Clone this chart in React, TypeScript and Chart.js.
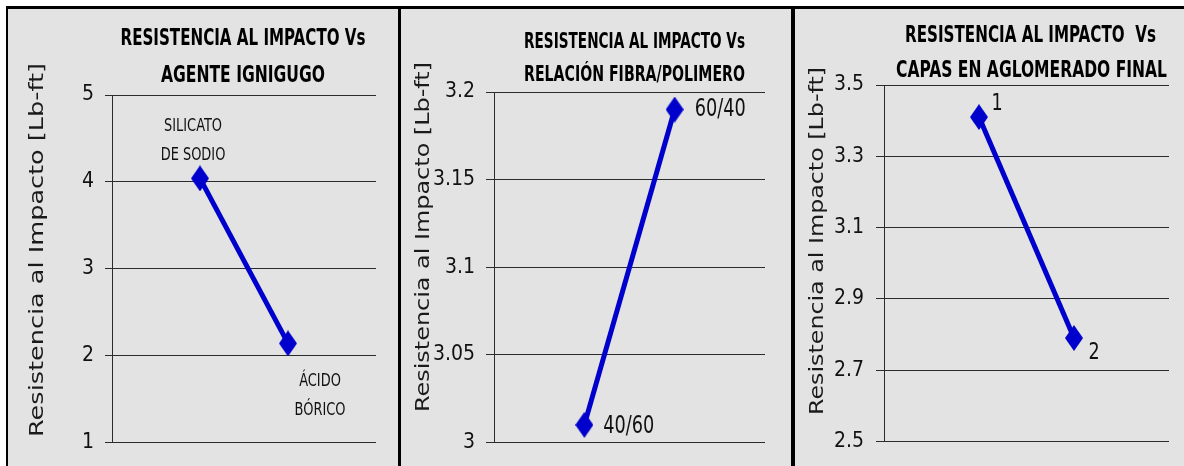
import React, { useEffect, useRef } from 'react';
import { Chart, registerables } from 'chart.js';

Chart.register(...registerables);

// ---------- data ----------
const categories1 = ['SILICATO DE SODIO', 'ÁCIDO BÓRICO'];
const values1 = [4.04, 2.14];
const pointLabels1 = [['SILICATO', 'DE SODIO'], ['ÁCIDO', 'BÓRICO']];
const yTicks1 = [1, 2, 3, 4, 5];
const title1 = ['RESISTENCIA AL IMPACTO Vs', 'AGENTE IGNIGUGO'];

const categories2 = ['40/60', '60/40'];
const values2 = [3.01, 3.19];
const pointLabels2 = [['40/60'], ['60/40']];
const yTicks2 = [3, 3.05, 3.1, 3.15, 3.2];
const title2 = ['RESISTENCIA AL IMPACTO Vs', 'RELACIÓN FIBRA/POLIMERO'];

const categories3 = ['1', '2'];
const values3 = [3.41, 2.79];
const pointLabels3 = [['1'], ['2']];
const yTicks3 = [2.5, 2.7, 2.9, 3.1, 3.3, 3.5];
const title3 = ['RESISTENCIA AL IMPACTO  Vs', 'CAPAS EN AGLOMERADO FINAL'];

const yAxisTitle = 'Resistencia al Impacto [Lb-ft]';

// ---------- styles ----------
const NARROW = "'Liberation Sans Narrow', 'DejaVu Sans Condensed', 'Arial Narrow', sans-serif";
const WIDE = "'DejaVu Sans', Verdana, sans-serif";
const BLUE = '#0000CC';
const GRID = '#2b2b2b';
const PANEL_BG = '#e3e3e3';
const PANEL_H = 457;

type PanelCfg = {
  left: number;
  width: number;
  categories: string[];
  values: number[];
  pointLabels: string[][];
  yTicks: number[];
  title: string[];
  titleSize: number;
  titleCx: number[];
  titleBaseline: number[];
  titleWidth: number[];
  padTop: number;
  yWidth: number;
  padRight: number;
  padBottom: number;
  tickLength: number;
  tickPadding: number;
  axisTitleX: number;
  axisTitleY: number;
  axisTitleLen: number;
  labelFontSize: number;
  labelScaleX: number;
  labelLineGap: number;
  labelOffsets: number[][];
};

const panels: PanelCfg[] = [
  {
    left: 8, width: 390,
    categories: categories1, values: values1, pointLabels: pointLabels1, yTicks: yTicks1, title: title1,
    titleSize: 23, titleCx: [235, 235], titleBaseline: [36, 72.5], titleWidth: [245, 164],
    padTop: 86, yWidth: 104, padRight: 22, padBottom: 16,
    tickLength: 7, tickPadding: 11,
    axisTitleX: 30, axisTitleY: 241, axisTitleLen: 374,
    labelFontSize: 18, labelScaleX: 0.8, labelLineGap: 28.5,
    labelOffsets: [[-7, -52], [32, 38]],
  },
  {
    left: 401, width: 391,
    categories: categories2, values: values2, pointLabels: pointLabels2, yTicks: yTicks2, title: title2,
    titleSize: 22, titleCx: [233.5, 233.5], titleBaseline: [39, 72], titleWidth: [221, 221],
    padTop: 83, yWidth: 93, padRight: 27, padBottom: 16,
    tickLength: 8, tickPadding: 11,
    axisTitleX: 23, axisTitleY: 228, axisTitleLen: 350,
    labelFontSize: 24, labelScaleX: 0.82, labelLineGap: 28,
    labelOffsets: [[44.5, 2], [45.5, 0]],
  },
  {
    left: 795, width: 389,
    categories: categories3, values: values3, pointLabels: pointLabels3, yTicks: yTicks3, title: title3,
    titleSize: 23, titleCx: [235.5, 236.5], titleBaseline: [32.7, 67.7], titleWidth: [251, 271],
    padTop: 76, yWidth: 89, padRight: 15, padBottom: 15,
    tickLength: 8, tickPadding: 12,
    axisTitleX: 23, axisTitleY: 232, axisTitleLen: 348,
    labelFontSize: 23, labelScaleX: 0.85, labelLineGap: 28,
    labelOffsets: [[18, -13], [20, 15]],
  },
];

function makeDiamond(w: number, h: number, color: string) {
  const c = document.createElement('canvas');
  c.width = w;
  c.height = h;
  const g = c.getContext('2d')!;
  g.fillStyle = color;
  g.beginPath();
  g.moveTo(w / 2, 0);
  g.lineTo(w, h / 2);
  g.lineTo(w / 2, h);
  g.lineTo(0, h / 2);
  g.closePath();
  g.fill();
  return c;
}

function Panel({ cfg }: { cfg: PanelCfg }) {
  const ref = useRef<HTMLCanvasElement | null>(null);

  useEffect(() => {
    if (!ref.current) return;
    const diamond = makeDiamond(18, 26, BLUE);

    // chart title (condensed bold, two lines)
    const titlePlugin = {
      id: 'condensedTitle',
      afterDraw(chart: any) {
        const { ctx } = chart;
        ctx.save();
        ctx.font = `bold ${cfg.titleSize}px ${NARROW}`;
        ctx.fillStyle = '#000';
        ctx.textAlign = 'center';
        ctx.textBaseline = 'alphabetic';
        cfg.title.forEach((line, i) => {
          const w = ctx.measureText(line).width;
          ctx.save();
          ctx.translate(cfg.titleCx[i], cfg.titleBaseline[i]);
          ctx.scale(cfg.titleWidth[i] / w, 1);
          ctx.fillText(line, 0, 0);
          ctx.restore();
        });
        ctx.restore();
      },
    };

    // labels next to the points
    const pointLabelPlugin = {
      id: 'pointLabelsInline',
      afterDatasetsDraw(chart: any) {
        const { ctx } = chart;
        const meta = chart.getDatasetMeta(0);
        ctx.save();
        ctx.font = `${cfg.labelFontSize}px ${NARROW}`;
        ctx.fillStyle = '#111';
        ctx.textAlign = 'center';
        ctx.textBaseline = 'middle';
        meta.data.forEach((pt: any, i: number) => {
          const lines = cfg.pointLabels[i];
          const [dx, dy] = cfg.labelOffsets[i];
          lines.forEach((line, j) => {
            ctx.save();
            ctx.translate(pt.x + dx, pt.y + dy + j * cfg.labelLineGap);
            ctx.scale(cfg.labelScaleX, 1);
            ctx.fillText(line, 0, 0);
            ctx.restore();
          });
        });
        ctx.restore();
      },
    };

    // rotated y-axis title
    const axisTitlePlugin = {
      id: 'axisTitleInline',
      afterDraw(chart: any) {
        const { ctx } = chart;
        ctx.save();
        ctx.translate(cfg.axisTitleX, cfg.axisTitleY);
        ctx.rotate(-Math.PI / 2);
        ctx.font = `20px ${WIDE}`;
        const w = ctx.measureText(yAxisTitle).width;
        ctx.scale(cfg.axisTitleLen / w, 1);
        ctx.fillStyle = '#1a1a1a';
        ctx.textAlign = 'center';
        ctx.textBaseline = 'middle';
        ctx.fillText(yAxisTitle, 0, 0);
        ctx.restore();
      },
    };

    const ticks = cfg.yTicks;
    const chart = new Chart(ref.current, {
      type: 'line',
      data: {
        datasets: [
          {
            label: 'Resistencia al Impacto',
            data: cfg.values.map((v, i) => ({ x: i + 1, y: v })),
            borderColor: BLUE,
            backgroundColor: BLUE,
            borderWidth: 5,
            pointStyle: diamond as any,
            pointRadius: 9,
            pointBackgroundColor: BLUE,
            pointBorderColor: BLUE,
            tension: 0,
            clip: false as any,
          },
        ],
      },
      options: {
        animation: false,
        responsive: false,
        events: [],
        layout: {
          padding: { left: 0, top: cfg.padTop, right: cfg.padRight, bottom: cfg.padBottom },
        },
        plugins: {
          legend: { display: false },
          tooltip: { enabled: false },
          title: { display: false },
        },
        scales: {
          x: {
            type: 'linear',
            min: 0,
            max: cfg.categories.length + 1,
            display: false,
          },
          y: {
            type: 'linear',
            min: ticks[0],
            max: ticks[ticks.length - 1],
            afterFit: (s: any) => {
              s.width = cfg.yWidth;
            },
            afterBuildTicks: (s: any) => {
              s.ticks = ticks.map((v) => ({ value: v }));
            },
            ticks: {
              callback: (v: any) => String(Number(Number(v).toFixed(4))),
              color: '#111',
              font: { family: NARROW, size: 21 },
              padding: cfg.tickPadding,
              autoSkip: false,
            },
            grid: {
              color: GRID,
              lineWidth: 1,
              drawTicks: true,
              tickLength: cfg.tickLength,
            },
            border: { display: true, color: GRID, width: 1 },
          },
        },
      } as any,
      plugins: [titlePlugin, pointLabelPlugin, axisTitlePlugin],
    });

    return () => chart.destroy();
  }, [cfg]);

  return (
    <div
      style={{
        position: 'absolute',
        left: cfg.left,
        top: 9,
        width: cfg.width,
        height: PANEL_H,
        background: PANEL_BG,
      }}
    >
      <canvas ref={ref} width={cfg.width} height={PANEL_H} style={{ display: 'block' }} />
    </div>
  );
}

export default function App() {
  return (
    <div
      style={{
        position: 'fixed',
        left: 0,
        top: 0,
        width: 1184,
        height: 466,
        background: '#ffffff',
        overflow: 'hidden',
      }}
    >
      {panels.map((p, i) => (
        <Panel key={i} cfg={p} />
      ))}
      <div style={{ position: 'absolute', left: 6, top: 6, width: 1178, height: 3, background: '#000' }} />
      <div style={{ position: 'absolute', left: 6, top: 6, width: 2, height: 460, background: '#000' }} />
      <div style={{ position: 'absolute', left: 398, top: 6, width: 3, height: 460, background: '#000' }} />
      <div style={{ position: 'absolute', left: 791, top: 6, width: 4, height: 460, background: '#000' }} />
    </div>
  );
}
